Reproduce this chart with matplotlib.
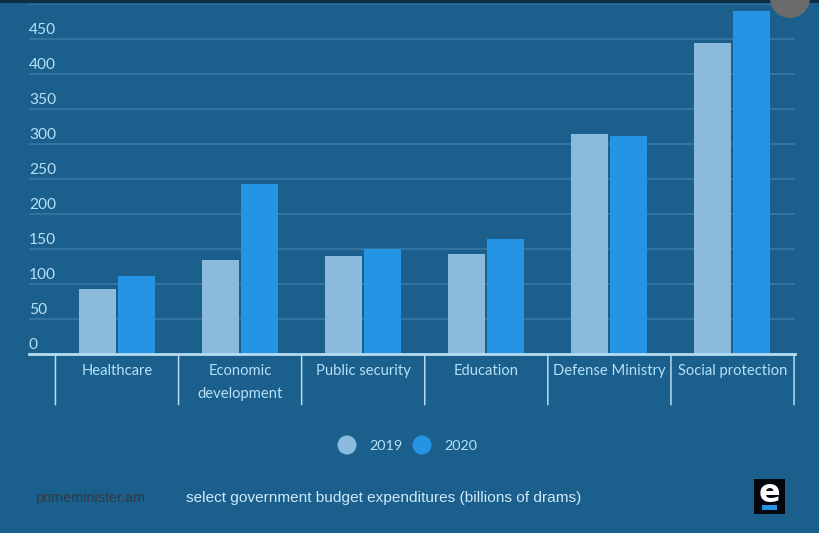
import matplotlib
matplotlib.use("Agg")
import matplotlib.pyplot as plt
from matplotlib.patches import Circle, Rectangle
import numpy as np

# budget data (billions of drams)
categories = ["Healthcare", "Economic\ndevelopment", "Public security",
              "Education", "Defense Ministry", "Social protection"]
values_2019 = [93, 134, 140, 143, 314, 444]
values_2020 = [111, 243, 150, 164, 311, 490]
y_ticks = [0, 50, 100, 150, 200, 250, 300, 350, 400, 450]
legend_years = ["2019", "2020"]

BG = "#1b5f8c"
LIGHT = "#8bbbdc"
BLUE = "#2594e4"
TEXT = "#b5e0f8"
GRID = "#3a7ba6"
W, H = 820, 533
STEP = 123.1


def fx(px):
    return px / W


def fy(px):
    return 1 - px / H


plt.rcParams["font.family"] = ["Lato", "DejaVu Sans"]

fig = plt.figure(figsize=(W / 100, H / 100), dpi=100, facecolor=BG)

# top dark strip
fig.patches.append(Rectangle((0, fy(3)), 1, 3 / H, transform=fig.transFigure,
                             facecolor="#0d2c45", edgecolor="none"))

ax = fig.add_axes([fx(29), fy(354), fx(795) - fx(29), fy(4) - fy(354)])
ax.set_facecolor(BG)
ax.set_ylim(0, 500)
# first category centre is at x=117 px
ax.set_xlim((29 - 117) / STEP, (795 - 117) / STEP)

x = np.arange(len(categories))
bar_w = 37 / STEP
off = 19.5 / STEP
ax.bar(x - off, values_2019, bar_w, color=LIGHT, zorder=3)
ax.bar(x + off, values_2020, bar_w, color=BLUE, zorder=3)

ax.set_yticks(y_ticks + [500])
ax.set_yticklabels([])
ax.tick_params(axis="both", length=0)
ax.grid(axis="y", color=GRID, linewidth=1.1, zorder=1)
ax.set_axisbelow(True)
for s in ["top", "left", "right"]:
    ax.spines[s].set_visible(False)
ax.spines["bottom"].set_color("#b5dcf2")
ax.spines["bottom"].set_linewidth(2)
ax.spines["bottom"].set_zorder(4)

# y labels sit above the grid lines, at the left end of the axis
for v in y_ticks:
    ax.annotate(str(v), (0, v), xycoords=("axes fraction", "data"),
                xytext=(0, 1.7), textcoords="offset points",
                color=TEXT, fontsize=11.2, ha="left", va="bottom")

# category labels and separators below the axis
ax.set_xticks(x)
ax.set_xticklabels([])
for i, c in enumerate(categories):
    ax.annotate(c, (i, 0), xycoords=("data", "axes fraction"),
                xytext=(0, -7.5), textcoords="offset points", color=TEXT,
                fontsize=10.6, ha="center", va="top", linespacing=1.75)
for i in range(len(categories) + 1):
    ax.annotate("", (i - 0.5, 0), xycoords=("data", "axes fraction"),
                xytext=(0, -36.5), textcoords="offset points",
                arrowprops=dict(arrowstyle="-", color="#b5dcf2", lw=1.1,
                                shrinkA=0, shrinkB=0))

# legend
for px, col, yr, tx in [(347, LIGHT, legend_years[0], 369),
                        (422, BLUE, legend_years[1], 444)]:
    fig.patches.append(Circle((px, H - 445), 9.5, transform=None,
                              facecolor=col, edgecolor="none"))
    fig.text(fx(tx), fy(446), yr, color=TEXT, fontsize=10.4, ha="left",
             va="center")

# footer
fig.text(fx(35), fy(498), "primeminister.am", color="#2f3a44", fontsize=10.4,
         family="Liberation Sans", ha="left", va="center")
fig.text(fx(186), fy(498), "select government budget expenditures (billions of drams)",
         color="#cfe9f8", fontsize=11.1, family="Liberation Sans", ha="left",
         va="center")

# logo
fig.patches.append(Rectangle((754, H - 514), 31, 35, transform=None,
                             facecolor="#04080c", edgecolor="none"))
fig.patches.append(Rectangle((762, H - 510), 15, 5, transform=None,
                             facecolor=BLUE, edgecolor="none"))
fig.text(fx(769.5), fy(494), "e", color="white", fontsize=23, fontweight="bold",
         family="DejaVu Sans", ha="center", va="center")

# grey circle cut by the top edge
fig.patches.append(Circle((790, H + 2), 20, transform=None, facecolor="#6b6b6b",
                          edgecolor="none", zorder=5))

fig.savefig("out.png", dpi=100, facecolor=BG)
